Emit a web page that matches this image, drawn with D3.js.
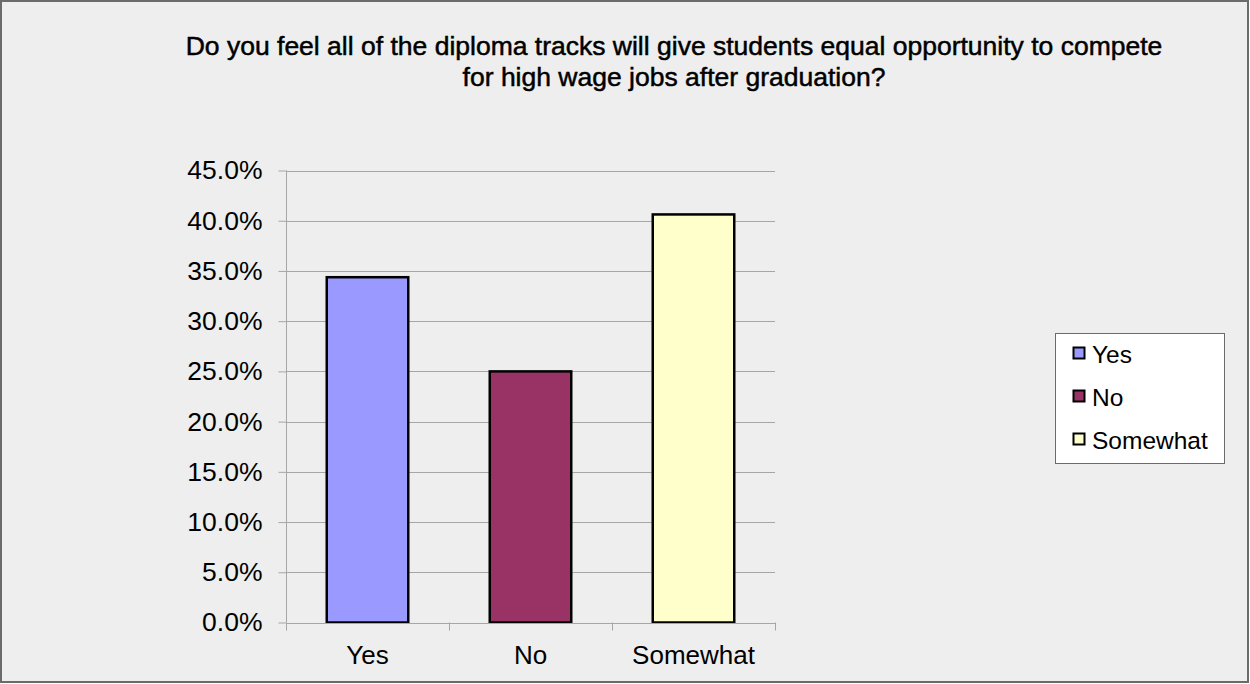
<!DOCTYPE html>
<html>
<head>
<meta charset="utf-8">
<script src="https://cdn.jsdelivr.net/npm/d3@7"></script>
<style>
  html, body { margin: 0; padding: 0; background: #ffffff; }
  svg { display: block; font-family: "Liberation Sans", Arial, sans-serif; }
</style>
</head>
<body>
<svg id="chart" width="1250" height="684"></svg>
<script>
// Survey answers and their share of responses
const categories = ["Yes", "No", "Somewhat"];
const shares = [0.34375, 0.25, 0.40625];
const colors = ["#9999FF", "#993366", "#FFFFCC"];
const yTicks = [0, 0.05, 0.10, 0.15, 0.20, 0.25, 0.30, 0.35, 0.40, 0.45];
const titleLines = [
  "Do you feel all of the diploma tracks will give students equal opportunity to compete",
  "for high wage jobs after graduation?"
];

const svg = d3.select("#chart");
const W = 1250, H = 684;
const FONT = "'Liberation Sans', Arial, sans-serif";

// Chart frame
svg.append("rect")
  .attr("x", 1).attr("y", 1)
  .attr("width", W - 3).attr("height", H - 3)
  .attr("fill", "#EEEEEE")
  .attr("stroke", "#6b6b6b")
  .attr("stroke-width", 2);

// Plot area
const plot = { left: 286, right: 775, top: 170.5, bottom: 622.5 };

const x = d3.scaleBand()
  .domain(categories)
  .range([plot.left, plot.right])
  .paddingInner(0.5)
  .paddingOuter(0.25);

const xOuter = d3.scaleBand()
  .domain(categories)
  .range([plot.left, plot.right]);

const y = d3.scaleLinear()
  .domain([0, 0.45])
  .range([plot.bottom, plot.top]);

// Horizontal gridlines
svg.append("g")
  .selectAll("line")
  .data(yTicks.slice(1))
  .join("line")
  .attr("x1", plot.left).attr("x2", plot.right)
  .attr("y1", d => Math.round(y(d)) + 0.5)
  .attr("y2", d => Math.round(y(d)) + 0.5)
  .attr("stroke", "#a6a6a6")
  .attr("stroke-width", 1);

// Y axis
const yAxis = d3.axisLeft(y)
  .tickValues(yTicks)
  .tickFormat(d3.format(".1%"))
  .tickSize(8)
  .tickPadding(16);

const gy = svg.append("g")
  .attr("transform", `translate(${plot.left + 0.5},0)`)
  .call(yAxis);
gy.select(".domain").attr("stroke", "#a6a6a6").attr("d", `M0,${plot.top}V${plot.bottom}`);
gy.selectAll(".tick line").attr("stroke", "#a6a6a6");
gy.selectAll(".tick text")
  .attr("fill", "#000")
  .style("font-size", "26.5px")
  .style("font-family", FONT);

// Bars
svg.append("g")
  .selectAll("rect")
  .data(categories.map((c, i) => ({ c, v: shares[i], col: colors[i] })))
  .join("rect")
  .attr("x", d => x(d.c))
  .attr("y", d => y(d.v))
  .attr("width", x.bandwidth())
  .attr("height", d => y(0) - y(d.v))
  .attr("fill", d => d.col)
  .attr("stroke", "#000")
  .attr("stroke-width", 2.5);

// X axis
const xTickPositions = categories.map(c => xOuter(c)).concat([plot.right]);
const gx = svg.append("g");
gx.append("line")
  .attr("x1", plot.left).attr("x2", plot.right)
  .attr("y1", Math.round(y(0)) + 0.5).attr("y2", Math.round(y(0)) + 0.5)
  .attr("stroke", "#a6a6a6");
gx.selectAll("line.tick")
  .data(xTickPositions)
  .join("line")
  .attr("class", "tick")
  .attr("x1", d => Math.round(d) + 0.5).attr("x2", d => Math.round(d) + 0.5)
  .attr("y1", y(0)).attr("y2", y(0) + 8)
  .attr("stroke", "#a6a6a6");
gx.selectAll("text")
  .data(categories)
  .join("text")
  .attr("x", d => xOuter(d) + xOuter.bandwidth() / 2)
  .attr("y", 664)
  .attr("text-anchor", "middle")
  .style("font-size", "26px")
  .text(d => d);

// Title (regular face with a hairline stroke for a medium weight)
svg.append("g")
  .selectAll("text")
  .data(titleLines)
  .join("text")
  .attr("x", 674)
  .attr("y", (d, i) => 55 + i * 31)
  .attr("text-anchor", "middle")
  .style("font-size", "26.5px")
  .attr("fill", "#000")
  .attr("stroke", "#000")
  .attr("stroke-width", 0.5)
  .text(d => d);

// Legend
const legend = svg.append("g");
legend.append("rect")
  .attr("x", 1055.5).attr("y", 333.5)
  .attr("width", 169).attr("height", 130)
  .attr("fill", "#ffffff")
  .attr("stroke", "#6b6b6b")
  .attr("stroke-width", 1);
const items = legend.selectAll("g.item")
  .data(categories.map((c, i) => ({ c, col: colors[i] })))
  .join("g")
  .attr("class", "item")
  .attr("transform", (d, i) => `translate(1073, ${363 + i * 43})`);
items.append("rect")
  .attr("x", 0.5).attr("y", -15.5)
  .attr("width", 11).attr("height", 11)
  .attr("fill", d => d.col)
  .attr("stroke", "#000")
  .attr("stroke-width", 2);
items.append("text")
  .attr("x", 19)
  .attr("y", 0)
  .style("font-size", "24.5px")
  .text(d => d.c);
</script>
</body>
</html>
